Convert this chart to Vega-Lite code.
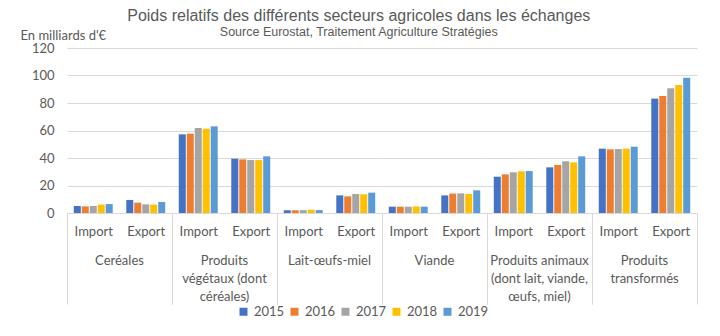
{
  "$schema": "https://vega.github.io/schema/vega-lite/v6.json",
  "padding": {"left": 20, "top": 8, "right": 23, "bottom": 5},
  "title": {
    "text": "Poids relatifs des différents secteurs agricoles dans les échanges",
    "subtitle": "Source Eurostat, Traitement Agriculture Stratégies",
    "font": "Liberation Sans", "fontSize": 16, "fontWeight": "normal", "color": "#595959",
    "subtitleFont": "Liberation Sans", "subtitleFontSize": 12.5, "subtitleColor": "#595959",
    "anchor": "middle", "frame": "bounds", "offset": -9, "subtitlePadding": 2
  },
  "data": {"values": [
    {"sector": "Ceréales", "flow": "Import", "year": "2015", "value": 5.1},
    {"sector": "Ceréales", "flow": "Import", "year": "2016", "value": 4.8},
    {"sector": "Ceréales", "flow": "Import", "year": "2017", "value": 5.1},
    {"sector": "Ceréales", "flow": "Import", "year": "2018", "value": 6.1},
    {"sector": "Ceréales", "flow": "Import", "year": "2019", "value": 6.5},
    {"sector": "Ceréales", "flow": "Export", "year": "2015", "value": 9.5},
    {"sector": "Ceréales", "flow": "Export", "year": "2016", "value": 7.5},
    {"sector": "Ceréales", "flow": "Export", "year": "2017", "value": 6.3},
    {"sector": "Ceréales", "flow": "Export", "year": "2018", "value": 6.1},
    {"sector": "Ceréales", "flow": "Export", "year": "2019", "value": 8.0},
    {"sector": "Produits végétaux (dont céréales)", "flow": "Import", "year": "2015", "value": 57.2},
    {"sector": "Produits végétaux (dont céréales)", "flow": "Import", "year": "2016", "value": 57.7},
    {"sector": "Produits végétaux (dont céréales)", "flow": "Import", "year": "2017", "value": 61.8},
    {"sector": "Produits végétaux (dont céréales)", "flow": "Import", "year": "2018", "value": 61.3},
    {"sector": "Produits végétaux (dont céréales)", "flow": "Import", "year": "2019", "value": 63.0},
    {"sector": "Produits végétaux (dont céréales)", "flow": "Export", "year": "2015", "value": 39.5},
    {"sector": "Produits végétaux (dont céréales)", "flow": "Export", "year": "2016", "value": 39.0},
    {"sector": "Produits végétaux (dont céréales)", "flow": "Export", "year": "2017", "value": 38.5},
    {"sector": "Produits végétaux (dont céréales)", "flow": "Export", "year": "2018", "value": 38.5},
    {"sector": "Produits végétaux (dont céréales)", "flow": "Export", "year": "2019", "value": 41.2},
    {"sector": "Lait-œufs-miel", "flow": "Import", "year": "2015", "value": 2.0},
    {"sector": "Lait-œufs-miel", "flow": "Import", "year": "2016", "value": 2.0},
    {"sector": "Lait-œufs-miel", "flow": "Import", "year": "2017", "value": 2.1},
    {"sector": "Lait-œufs-miel", "flow": "Import", "year": "2018", "value": 2.4},
    {"sector": "Lait-œufs-miel", "flow": "Import", "year": "2019", "value": 2.1},
    {"sector": "Lait-œufs-miel", "flow": "Export", "year": "2015", "value": 12.8},
    {"sector": "Lait-œufs-miel", "flow": "Export", "year": "2016", "value": 12.1},
    {"sector": "Lait-œufs-miel", "flow": "Export", "year": "2017", "value": 13.8},
    {"sector": "Lait-œufs-miel", "flow": "Export", "year": "2018", "value": 13.6},
    {"sector": "Lait-œufs-miel", "flow": "Export", "year": "2019", "value": 14.8},
    {"sector": "Viande", "flow": "Import", "year": "2015", "value": 4.6},
    {"sector": "Viande", "flow": "Import", "year": "2016", "value": 4.6},
    {"sector": "Viande", "flow": "Import", "year": "2017", "value": 4.6},
    {"sector": "Viande", "flow": "Import", "year": "2018", "value": 4.8},
    {"sector": "Viande", "flow": "Import", "year": "2019", "value": 4.6},
    {"sector": "Viande", "flow": "Export", "year": "2015", "value": 12.8},
    {"sector": "Viande", "flow": "Export", "year": "2016", "value": 14.1},
    {"sector": "Viande", "flow": "Export", "year": "2017", "value": 14.3},
    {"sector": "Viande", "flow": "Export", "year": "2018", "value": 13.8},
    {"sector": "Viande", "flow": "Export", "year": "2019", "value": 16.5},
    {"sector": "Produits animaux (dont lait, viande, œufs, miel)", "flow": "Import", "year": "2015", "value": 26.4},
    {"sector": "Produits animaux (dont lait, viande, œufs, miel)", "flow": "Import", "year": "2016", "value": 28.1},
    {"sector": "Produits animaux (dont lait, viande, œufs, miel)", "flow": "Import", "year": "2017", "value": 29.6},
    {"sector": "Produits animaux (dont lait, viande, œufs, miel)", "flow": "Import", "year": "2018", "value": 30.3},
    {"sector": "Produits animaux (dont lait, viande, œufs, miel)", "flow": "Import", "year": "2019", "value": 30.5},
    {"sector": "Produits animaux (dont lait, viande, œufs, miel)", "flow": "Export", "year": "2015", "value": 33.2},
    {"sector": "Produits animaux (dont lait, viande, œufs, miel)", "flow": "Export", "year": "2016", "value": 34.9},
    {"sector": "Produits animaux (dont lait, viande, œufs, miel)", "flow": "Export", "year": "2017", "value": 37.6},
    {"sector": "Produits animaux (dont lait, viande, œufs, miel)", "flow": "Export", "year": "2018", "value": 36.8},
    {"sector": "Produits animaux (dont lait, viande, œufs, miel)", "flow": "Export", "year": "2019", "value": 41.2},
    {"sector": "Produits transformés", "flow": "Import", "year": "2015", "value": 46.8},
    {"sector": "Produits transformés", "flow": "Import", "year": "2016", "value": 46.3},
    {"sector": "Produits transformés", "flow": "Import", "year": "2017", "value": 46.5},
    {"sector": "Produits transformés", "flow": "Import", "year": "2018", "value": 46.8},
    {"sector": "Produits transformés", "flow": "Import", "year": "2019", "value": 48.2},
    {"sector": "Produits transformés", "flow": "Export", "year": "2015", "value": 83.2},
    {"sector": "Produits transformés", "flow": "Export", "year": "2016", "value": 85.1},
    {"sector": "Produits transformés", "flow": "Export", "year": "2017", "value": 90.7},
    {"sector": "Produits transformés", "flow": "Export", "year": "2018", "value": 93.1},
    {"sector": "Produits transformés", "flow": "Export", "year": "2019", "value": 98.4}
  ]},
  "facet": {
    "column": {
      "field": "sector", "type": "nominal",
      "sort": ["Ceréales", "Produits végétaux (dont céréales)", "Lait-œufs-miel", "Viande", "Produits animaux (dont lait, viande, œufs, miel)", "Produits transformés"],
      "header": {
        "title": null, "labelOrient": "bottom", "labelFont": "Lato", "labelFontSize": 13,
        "labelColor": "#595959", "labelLineHeight": 18, "labelPadding": -50, "labelBaseline": "top",
        "labelExpr": "datum.value == 'Produits végétaux (dont céréales)' ? ['Produits', 'végétaux (dont', 'céréales)'] : datum.value == 'Produits animaux (dont lait, viande, œufs, miel)' ? ['Produits animaux', '(dont lait, viande,', 'œufs, miel)'] : datum.value == 'Produits transformés' ? ['Produits', 'transformés'] : datum.value"
      }
    }
  },
  "spacing": 0,
  "spec": {
    "width": 105, "height": 165,
    "mark": {"type": "bar"},
    "encoding": {
      "x": {
        "field": "flow", "type": "nominal", "sort": ["Import", "Export"],
        "scale": {"paddingInner": 0, "paddingOuter": 0},
        "axis": {
          "title": null, "labelAngle": 0, "domainColor": "#D9D9D9",
          "labelFont": "Lato", "labelFontSize": 13, "labelColor": "#595959",
          "tickBand": "extent", "tickSize": 91, "tickColor": "#D9D9D9",
          "tickOpacity": {"condition": {"test": "datum.value == 'Import' && !datum.extra", "value": 0}, "value": 1},
          "labelPadding": -79, "labelBaseline": "top"
        }
      },
      "xOffset": {"field": "year", "type": "nominal", "scale": {"paddingInner": 0.12, "paddingOuter": 0.85}},
      "y": {
        "field": "value", "type": "quantitative",
        "scale": {"domain": [0, 120]},
        "axis": {
          "values": [0, 20, 40, 60, 80, 100, 120],
          "domain": false, "ticks": false, "gridColor": "#D9D9D9",
          "labelFont": "Lato", "labelFontSize": 13, "labelColor": "#595959", "labelPadding": 13,
          "title": "En milliards d'€", "titleAngle": 0, "titleAlign": "left", "titleBaseline": "middle",
          "titleX": -47, "titleY": -12.5, "titleFont": "Lato", "titleFontSize": 13,
          "titleFontWeight": "normal", "titleColor": "#595959"
        }
      },
      "color": {
        "field": "year", "type": "nominal",
        "scale": {"domain": ["2015", "2016", "2017", "2018", "2019"], "range": ["#4472C4", "#ED7D31", "#A5A5A5", "#FFC000", "#5B9BD5"]},
        "legend": {
          "title": null, "orient": "none", "legendX": 170, "legendY": 257, "direction": "horizontal",
          "symbolType": "square", "symbolSize": 64, "symbolStrokeWidth": 0,
          "labelFont": "Lato", "labelFontSize": 13, "labelColor": "#595959",
          "labelOffset": 4, "columnPadding": 3
        }
      }
    }
  },
  "config": {"view": {"stroke": null}}
}
